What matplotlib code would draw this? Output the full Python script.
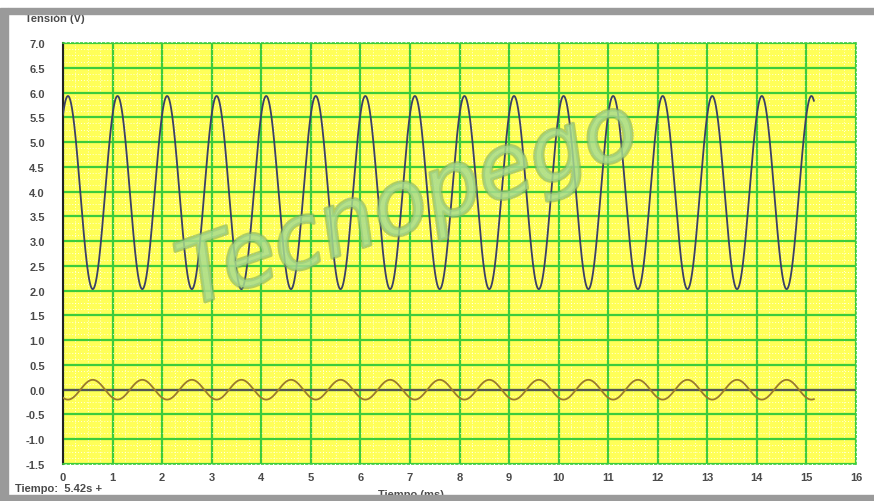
"""Oscilloscope style capture: Tension (V) vs Tiempo (ms)"""
import numpy as np
import matplotlib.pyplot as plt
import matplotlib.patheffects as pe
from matplotlib.patches import Rectangle

# values
x_ticks = list(range(0, 17))
y_ticks = [-1.5, -1.0, -0.5, 0.0, 0.5, 1.0, 1.5, 2.0, 2.5, 3.0, 3.5,
           4.0, 4.5, 5.0, 5.5, 6.0, 6.5, 7.0]
t_end = 15.15          # ms, where the traces stop
period = 1.0           # ms
first_peak = 0.1       # ms, first maximum of the blue trace
blue_max = 5.93
blue_min = 2.03
brown_amp = 0.2        # brown trace is in opposition to the blue one

t = np.linspace(0, t_end, 3000)
phase = np.cos(2 * np.pi * (t - first_peak) / period)
blue = (blue_max + blue_min) / 2 + (blue_max - blue_min) / 2 * phase
brown = -brown_amp * phase

fig = plt.figure(figsize=(8.74, 5.02), dpi=100)
fig.patch.set_facecolor('white')
ax = fig.add_axes([63 / 874, 1 - 465 / 502, 793 / 874, 421 / 502])
ax.set_facecolor('#ffff58')
ax.set_xlim(0, 16)
ax.set_ylim(-1.5, 7.0)

# grid
ax.set_xticks(x_ticks)
ax.set_yticks(y_ticks)
ax.set_xticks(np.arange(0, 16, 0.25), minor=True)
ax.set_yticks(np.arange(-1.5, 7.0, 0.125), minor=True)
ax.grid(which='minor', color='#ffffff', linestyle=(0, (1, 2)),
        linewidth=0.7, alpha=0.8)
ax.grid(which='major', color='#3ccc3c', linewidth=1.6)
ax.set_axisbelow(True)

ax.axhline(0, color='#555555', linewidth=1.6, zorder=2)
ax.plot(t, brown, color='#9a7a2c', linewidth=1.3, zorder=3)
ax.plot(t, blue, color='#3a3f66', linewidth=1.3, zorder=3)

for side in ['top', 'right', 'bottom']:
    ax.spines[side].set_color('#3ccc3c')
    ax.spines[side].set_linestyle(':')
    ax.spines[side].set_linewidth(1.2)
ax.spines['left'].set_color('#222222')
ax.spines['left'].set_linewidth(1.5)

ax.tick_params(which='both', length=0)
ax.tick_params(axis='y', pad=13)
ax.tick_params(axis='x', pad=6)
ax.set_yticklabels([f'{v:.1f}' for v in y_ticks])
for lab in ax.get_xticklabels() + ax.get_yticklabels():
    lab.set_fontsize(8)
    lab.set_fontweight('bold')
    lab.set_color('#4a4a4a')
    lab.set_family('Liberation Sans')

# watermark
ax.text(0.436, 0.615, 'Tecnopego', transform=ax.transAxes, fontsize=64,
        style='italic', rotation=19, ha='center', va='center',
        color='#a8dc90', alpha=0.6, zorder=4, family='DejaVu Sans',
        path_effects=[pe.withStroke(linewidth=2.5, foreground='#7fae62')])

txt = dict(fontsize=8, color='#4a4a4a', fontweight='bold',
           family='Liberation Sans', va='center')
fig.text(25 / 874, 1 - 19 / 502, 'Tensión (V)', **txt)
fig.text(15 / 874, 1 - 489 / 502, 'Tiempo:  5.42s +', **txt)
fig.text(411 / 874, 1 - 495 / 502, 'Tiempo (ms)', ha='center', **txt)

# window frame
gray = '#9a9a9a'
fig.patches.append(Rectangle((8 / 874, 1 - 15 / 502), 1, 6 / 502,
                             transform=fig.transFigure, color=gray, zorder=10))
fig.patches.append(Rectangle((0, 0), 8 / 874, 1 - 9 / 502,
                             transform=fig.transFigure, color=gray, zorder=10))
fig.patches.append(Rectangle((0, 0), 1, 6 / 502,
                             transform=fig.transFigure, color=gray, zorder=10))

fig.savefig('out.png', dpi=100)
